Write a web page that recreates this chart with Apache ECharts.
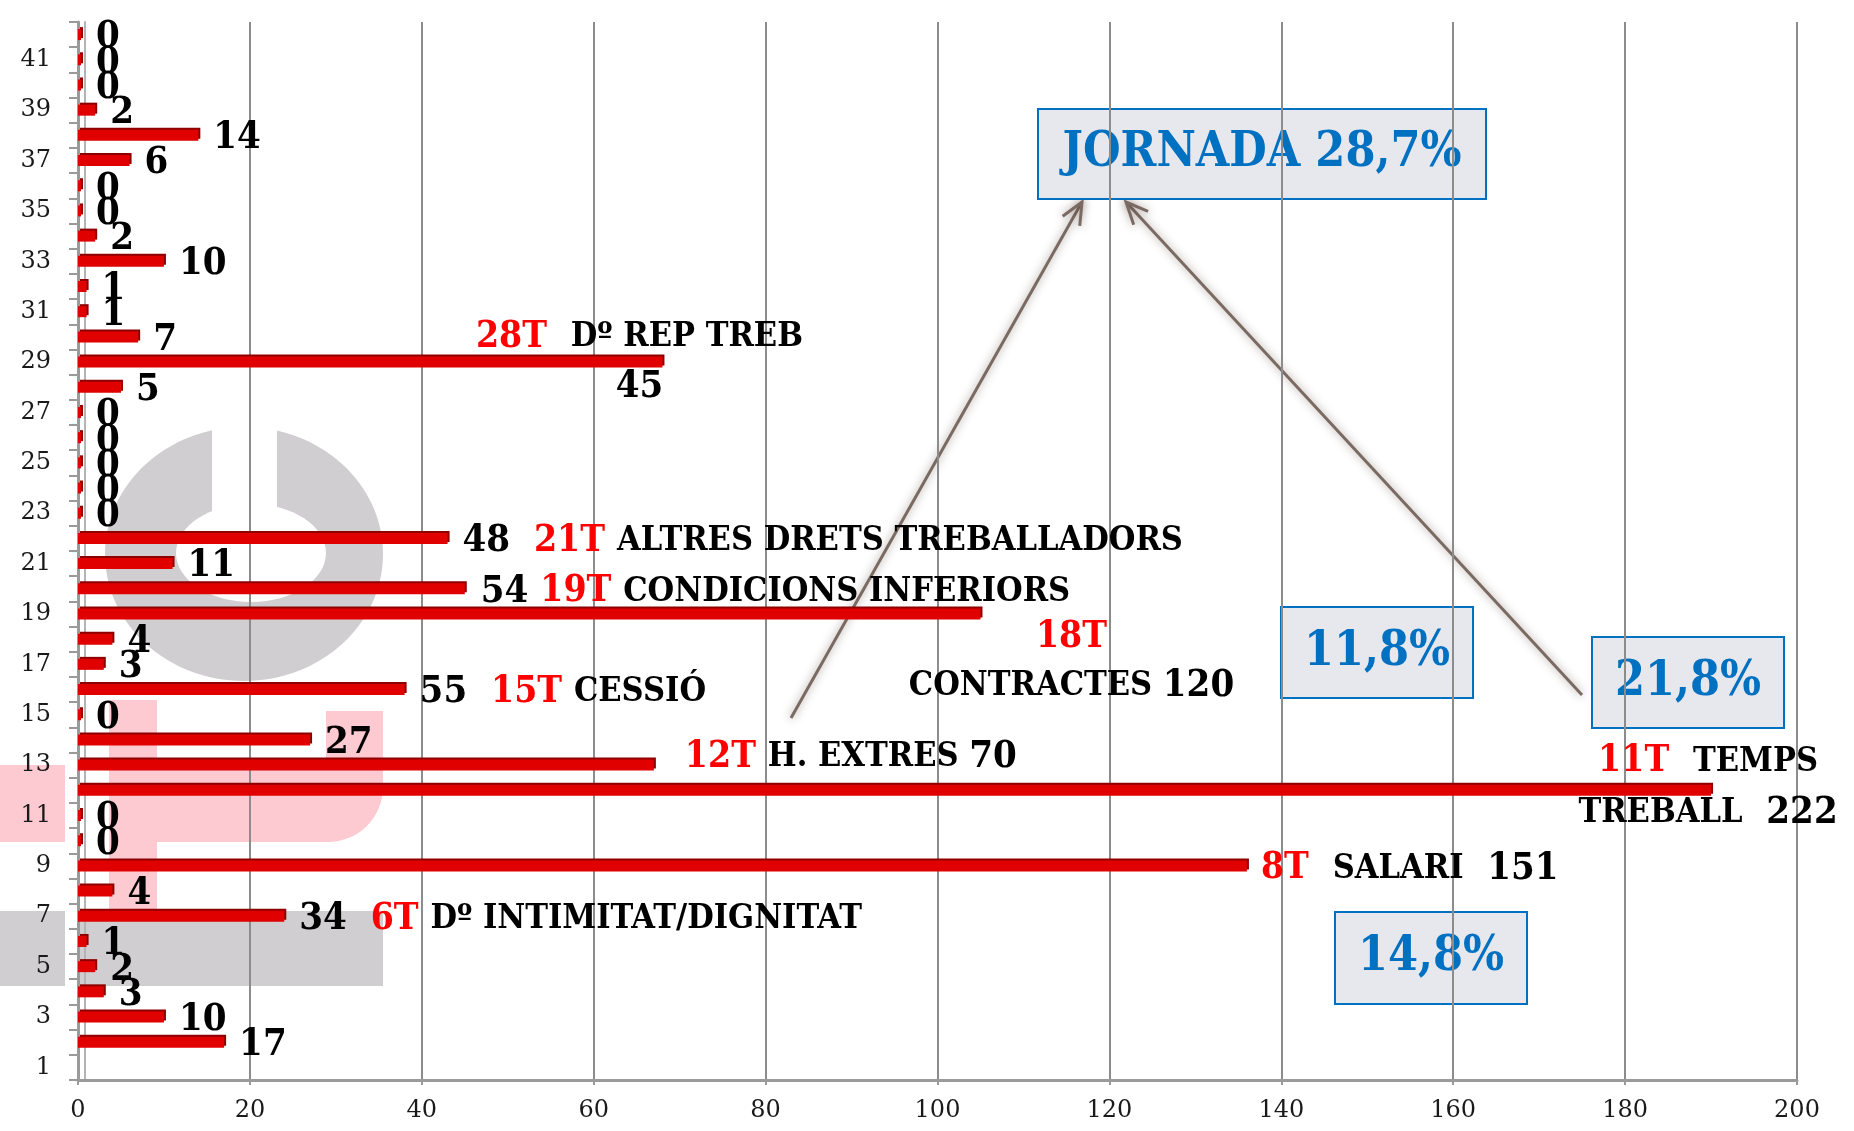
<!DOCTYPE html>
<html>
<head>
<meta charset="utf-8">
<title>Temes</title>
<script src="https://cdn.jsdelivr.net/npm/echarts@6/dist/echarts.min.js"></script>
<style>
  html, body { margin: 0; padding: 0; background: #fff; }
  #chart { width: 1854px; height: 1131px; }
</style>
</head>
<body>
<div id="chart"></div>
<script>
// categories on the vertical axis (bottom to top)
const categories = ['1', '2', '3', '4', '5', '6', '7', '8', '9', '10', '11', '12', '13', '14',
  '15', '16', '17', '18', '19', '20', '21', '22', '23', '24', '25', '26', '27', '28',
  '29', '30', '31', '32', '33', '34', '35', '36', '37', '38', '39', '40', '41', '42'];

// bar lengths as drawn in the picture ('-' = no bar)
const barLengths = ['-', 17, 10, 3, 2, 1, 24, 4, 136, 0, 0, 190, 67, 27, 0, 38, 3, 4, 105, 45,
  11, 43, 0, 0, 0, 0, 0, 5, 68, 7, 1, 1, 10, 2, 0, 0, 6, 14, 2, 0, 0, 0];

// numbers printed next to the bars
const printedValues = ['', 17, 10, 3, 2, 1, 34, 4, 151, 0, 0, 222, 70, 27, 0, 55, 3, 4, 120, 54,
  11, 48, 0, 0, 0, 0, 0, 5, 45, 7, 1, 1, 10, 2, 0, 0, 6, 14, 2, 0, 0, 0];

// named topics
const topicCategory = ['7', '9', '12', '13', '16', '19', '20', '22', '29'];
const topicCode = ['6T', '8T', '11T', '12T', '15T', '18T', '19T', '21T', '28T'];
const topicName = ['Dº INTIMITAT/DIGNITAT', 'SALARI', 'TEMPS TREBALL', 'H. EXTRES', 'CESSIÓ',
  'CONTRACTES', 'CONDICIONS INFERIORS', 'ALTRES DRETS TREBALLADORS', 'Dº REP TREB'];

// share boxes
const shareLabels = ['JORNADA 28,7%', '11,8%', '21,8%', '14,8%'];

const xTicks = { min: 0, max: 200, step: 20 };

const LABEL_FONT = "'DejaVu Serif Condensed', 'Liberation Serif', serif";
const AXIS_FONT = "'DejaVu Serif', 'Liberation Serif', serif";
const RED = '#ff0000';
const BLUE = '#0070c0';

// how each topic label is laid out next to its bar
function topicLabel(cat) {
  const i = topicCategory.indexOf(cat);
  const idx = categories.indexOf(cat);
  const code = '{r|' + topicCode[i] + '}';
  const w = s => '{w|' + s + '}';
  const name = topicName[i];
  const n = printedValues[idx];
  switch (cat) {
    case '7':  return { formatter: n + '  ' + code + ' ' + w(name) };
    case '9':  return { formatter: code + '  ' + w(name) + '  ' + n, distance: 14 };
    case '12': {
      const p = name.split(' ');
      return { formatter: code + '  ' + w(p[0]) + '\n' + w(p[1]) + '  ' + n,
        position: ['100%', '50%'], align: 'center', verticalAlign: 'middle',
        offset: [-3, -3], lineHeight: 51 };
    }
    case '13': return { formatter: code + ' ' + w(name + ' ') + n, distance: 31, offset: [0, -8] };
    case '16': return { formatter: n + '  ' + code + ' ' + w(name) };
    case '19': return { formatter: code + '\n' + w(name + ' ') + n,
      position: ['100%', '50%'], align: 'center', verticalAlign: 'middle',
      offset: [91, 48], lineHeight: 49 };
    case '20': return { formatter: n + ' ' + code + ' ' + w(name), distance: 16 };
    case '22': return { formatter: n + '  ' + code + ' ' + w(name) };
    case '29': return { formatter: code + '  ' + w(name) + '\n' + n,
      position: ['100%', '50%'], align: 'center', verticalAlign: 'middle',
      offset: [-23, 0], lineHeight: 50 };
  }
  return {};
}

const barData = categories.map((c, i) => {
  const item = { value: barLengths[i] };
  if (topicCategory.indexOf(c) >= 0) item.label = topicLabel(c);
  return item;
});

// watermark logo behind the plot
const grey = '#d0ced0', pink = '#fdcad2';
const logo = [
  { type: 'ellipse', shape: { cx: 244, cy: 554, rx: 139, ry: 127 }, style: { fill: grey } },
  { type: 'ellipse', shape: { cx: 251, cy: 553, rx: 75, ry: 49 }, style: { fill: '#fff' } },
  { type: 'rect', shape: { x: 212, y: 420, width: 65, height: 95 }, style: { fill: '#fff' } },
  { type: 'rect', shape: { x: 109, y: 700, width: 48, height: 211 }, style: { fill: pink } },
  { type: 'rect', shape: { x: 326, y: 711, width: 57, height: 70 }, style: { fill: pink } },
  { type: 'rect', shape: { x: 109, y: 765, width: 274, height: 77, r: [0, 0, 55, 0] }, style: { fill: pink } },
  { type: 'rect', shape: { x: 0, y: 765, width: 65, height: 77 }, style: { fill: pink } },
  { type: 'rect', shape: { x: 0, y: 911, width: 65, height: 75 }, style: { fill: grey } },
  { type: 'rect', shape: { x: 80, y: 911, width: 303, height: 75 }, style: { fill: grey } }
].map(e => Object.assign(e, { z: -100, silent: true }));

function shareBox(text, x, y, w, h) {
  return {
    type: 'group', z: 100, silent: true,
    children: [
      { type: 'rect', shape: { x: x, y: y, width: w, height: h },
        style: { fill: '#e7e8ee', stroke: BLUE, lineWidth: 2 } },
      { type: 'text', x: x + w / 2, y: y + h / 2,
        style: { text: text, fill: BLUE, font: 'bold 48px ' + LABEL_FONT,
          align: 'center', verticalAlign: 'middle' } }
    ]
  };
}

function arrow(x1, y1, x2, y2) {
  const a = Math.atan2(y2 - y1, x2 - x1), L = 24, s = 0.42;
  const st = { stroke: '#7a6a62', lineWidth: 3, shadowBlur: 8, shadowColor: 'rgba(70,50,40,0.5)', fill: null };
  return {
    type: 'group', z: 90, silent: true,
    children: [
      { type: 'line', shape: { x1: x1, y1: y1, x2: x2, y2: y2 }, style: st },
      { type: 'polyline', shape: { points: [
        [x2 - L * Math.cos(a - s), y2 - L * Math.sin(a - s)], [x2, y2],
        [x2 - L * Math.cos(a + s), y2 - L * Math.sin(a + s)]] }, style: st }
    ]
  };
}

const axisGrey = '#9a9a9a';
const chart = echarts.init(document.getElementById('chart'));
chart.setOption({
  backgroundColor: '#fff',
  animation: false,
  grid: { left: 78, right: 57, top: 22, bottom: 51, containLabel: false },
  xAxis: {
    type: 'value', min: xTicks.min, max: xTicks.max, interval: xTicks.step,
    axisLine: { show: true, lineStyle: { color: axisGrey, width: 3 } },
    axisTick: { show: true, length: 5, lineStyle: { color: axisGrey, width: 2 } },
    axisLabel: { margin: 19, fontFamily: AXIS_FONT, fontSize: 24, color: '#1a1a1a' },
    splitLine: { show: true, lineStyle: { color: '#8c8c8c', width: 2 } }
  },
  yAxis: [{
    type: 'category', data: categories,
    axisLine: { show: true, lineStyle: { color: axisGrey, width: 3 } },
    axisTick: { show: true, interval: 0, length: 9, lineStyle: { color: axisGrey, width: 2 } },
    axisLabel: { interval: 1, margin: 27, fontFamily: AXIS_FONT, fontSize: 24, color: '#1a1a1a' }
  }, {
    // back wall edge of the 3D frame
    type: 'category', data: categories, position: 'left', offset: -7,
    axisLine: { show: true, lineStyle: { color: '#b4b4b4', width: 2 } },
    axisTick: { show: false }, axisLabel: { show: false }
  }],
  series: [{
    type: 'bar',
    data: barData,
    barWidth: 11,
    barMinHeight: 3,
    itemStyle: { color: '#e00000', shadowColor: '#8e0000', shadowOffsetX: 2, shadowOffsetY: -2 },
    label: {
      show: true, position: 'right', distance: 15, offset: [0, 3],
      fontFamily: LABEL_FONT, fontSize: 38, fontWeight: 'bold', color: '#000',
      formatter: p => String(printedValues[p.dataIndex]),
      rich: {
        r: { color: RED, fontFamily: LABEL_FONT, fontSize: 37, fontWeight: 'bold' },
        w: { color: '#000', fontFamily: LABEL_FONT, fontSize: 34, fontWeight: 'bold' }
      }
    },
    z: 5
  }],
  graphic: logo.concat([
    arrow(791, 718, 1082, 202),
    arrow(1582, 695, 1126, 202),
    shareBox(shareLabels[0], 1038, 109, 448, 90),
    shareBox(shareLabels[1], 1281, 607, 192, 91),
    shareBox(shareLabels[2], 1592, 637, 192, 91),
    shareBox(shareLabels[3], 1335, 912, 192, 92)
  ])
});
</script>
</body>
</html>
